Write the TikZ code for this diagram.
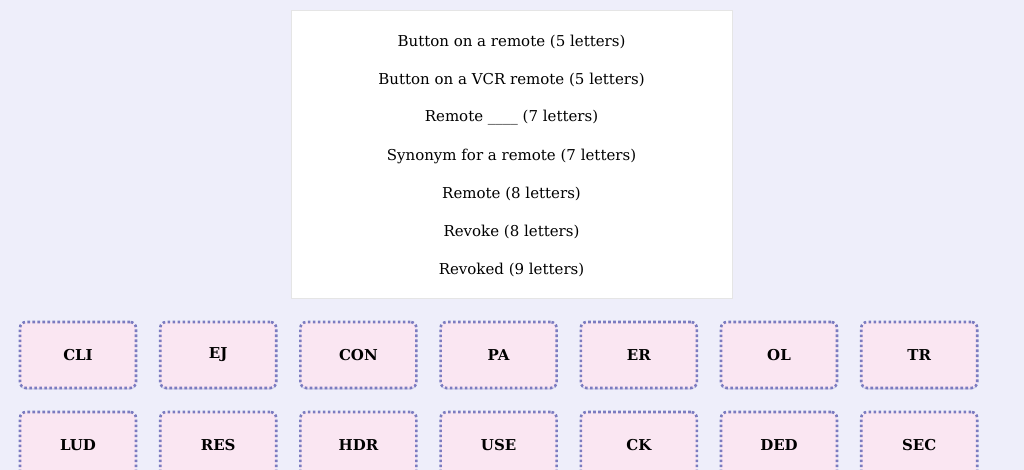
\documentclass[tikz,border=0pt]{standalone}
\usepackage{fontspec}
\setmainfont{DejaVu Serif}
\usetikzlibrary{positioning,shadows}
\definecolor{bgcol}{HTML}{EEEEFA}
\definecolor{tilefill}{HTML}{FAE6F2}
\definecolor{tileline}{HTML}{7B7BC0}
\tikzset{clue/.style = {font=\fontsize{15}{18}\selectfont}}
\tikzset{tile/.style = {draw=tileline, fill=tilefill, line width=2.6pt, dash pattern=on 2.6pt off 2.4pt, rounded corners=6pt,
  minimum width=116pt, minimum height=66pt, font=\fontsize{15}{18}\selectfont\bfseries,
  drop shadow={shadow xshift=0pt, shadow yshift=-1.5pt, opacity=0.25, fill=tileline}}}

\begin{document}
\begin{tikzpicture}[x=1pt,y=-1pt]
		\fill[bgcol] (0,0) rectangle (1024,470);
		\useasboundingbox (0,0) rectangle (1024,470);
		\node[draw=black!10, fill=white, minimum width=441pt, minimum height=288pt, inner sep=0pt] (cluebox) at (511.5,154) {};
		\foreach \t [count=\i] in {Button on a remote (5 letters), Button on a VCR remote (5 letters),
			Remote \_\_\_\_ (7 letters), Synonym for a remote (7 letters), Remote (8 letters),
			Revoke (8 letters), Revoked (9 letters)}
			\node[clue] (clue\i) at (511.5,4+38*\i) {\t};
		\foreach \w [count=\i] in {CLI, EJ, CON, PA, ER, OL, TR}
			\node[tile] (top\i) at (78+140.2*\i-140.2,355) {\w};
		\foreach \w [count=\i] in {LUD, RES, HDR, USE, CK, DED, SEC}
			\node[tile] (bot\i) at (78+140.2*\i-140.2,445) {\w};
	\end{tikzpicture}
\end{document}
